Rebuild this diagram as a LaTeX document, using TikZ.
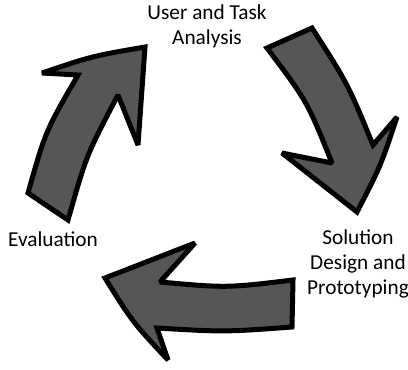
\documentclass[tikz,border=0pt]{standalone}
\usepackage{fontspec}
\setmainfont{Carlito}
\definecolor{arrowgray}{HTML}{565656}
\tikzset{
  cyclearrow/.style={draw=black, fill=arrowgray, line width=5pt, miter limit=2},
  steplabel/.style={inner sep=0pt, align=center, font=\fontsize{21.3}{25}\selectfont}
}
\begin{document}
\begin{tikzpicture}[x=1pt,y=-1pt]
    \useasboundingbox (0,0) rectangle (408,370);
    % labels
    \path (207,5) node[steplabel,anchor=north] (analysis) {User and Task\\Analysis};
    \path (53,246) node[steplabel,anchor=base] (evaluation) {Evaluation};
    \path (358,230) node[steplabel,anchor=north] (design) {Solution\\Design and\\Prototyping};
    % evaluation -> analysis
    \draw[cyclearrow] (28,193) .. controls (45.6,130.9) .. (78,75) -- (42,73)
        .. controls (92.5,56) .. (145,47) -- (138,145) -- (118,95)
        .. controls (86.5,154.9) .. (68,220) -- cycle;
    % analysis -> design
    \draw[cyclearrow] (267,48) -- (312,28) .. controls (347.8,83.7) .. (373,145)
        -- (397,117) .. controls (380.7,166) .. (357,212) -- (282,153) -- (332,163)
        .. controls (307.1,101.2) .. (267,48) -- cycle;
    % design -> evaluation
    \draw[cyclearrow] (293,280) .. controls (226.5,288) .. (160,282) -- (195,243)
        -- (105,278) .. controls (132.5,322) .. (168,360) -- (157,328)
        .. controls (224.5,332) .. (292,327) -- cycle;
\end{tikzpicture}
\end{document}
